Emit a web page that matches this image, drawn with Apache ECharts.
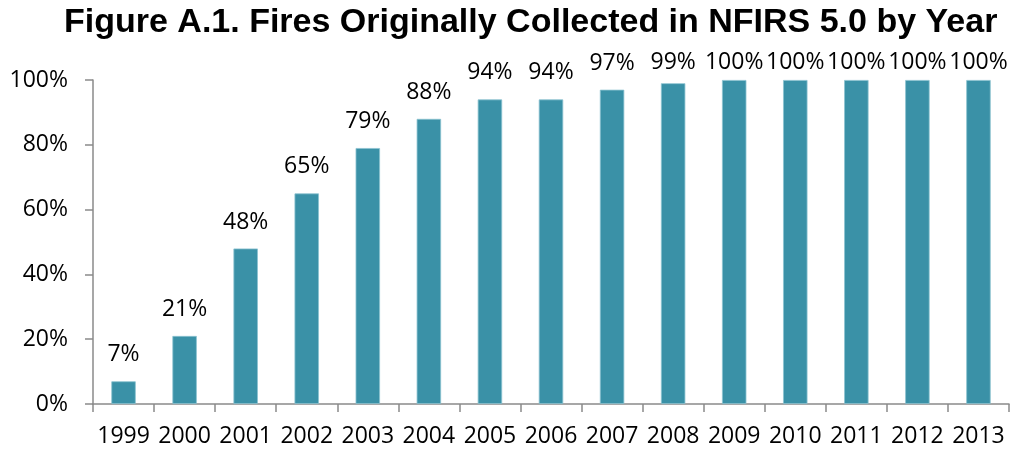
<!DOCTYPE html>
<html>
<head>
<meta charset="utf-8">
<script src="https://cdn.jsdelivr.net/npm/echarts@6/dist/echarts.min.js"></script>
<style>
  html, body { margin: 0; padding: 0; background: #fff; }
  #chart { width: 1011px; height: 451px; }
</style>
</head>
<body>
<div id="chart"></div>
<script>
// data
const years = ['1999', '2000', '2001', '2002', '2003', '2004', '2005', '2006',
    '2007', '2008', '2009', '2010', '2011', '2012', '2013'];
const shareCollected = [7, 21, 48, 65, 79, 88, 94, 94, 97, 99, 100, 100, 100, 100, 100];
const yTicks = [0, 20, 40, 60, 80, 100];

const labelFont = '"Open Sans", sans-serif';
const chart = echarts.init(document.getElementById('chart'));

chart.setOption({
    animation: false,
    title: {
        text: 'Figure A.1. Fires Originally Collected in NFIRS 5.0 by Year',
        left: 64,
        top: 6,
        padding: 0,
        textStyle: {
            fontFamily: '"Liberation Sans", Arial, sans-serif',
            fontWeight: 'bold',
            fontSize: 34,
            color: '#000'
        }
    },
    grid: { left: 93, right: 2, top: 80, bottom: 47, containLabel: false },
    xAxis: {
        type: 'category',
        data: years,
        axisLine: { lineStyle: { color: '#8a8a8a', width: 1.5 } },
        axisTick: { show: true, length: 8, lineStyle: { color: '#8a8a8a', width: 1.5 } },
        axisLabel: { color: '#000', fontFamily: labelFont, fontSize: 23, margin: 21, interval: 0 }
    },
    yAxis: {
        type: 'value',
        min: yTicks[0],
        max: yTicks[yTicks.length - 1],
        interval: yTicks[1] - yTicks[0],
        splitLine: { show: false },
        axisLine: { show: true, lineStyle: { color: '#8a8a8a', width: 1.5 } },
        axisTick: { show: true, length: 8, lineStyle: { color: '#8a8a8a', width: 1.5 } },
        axisLabel: {
            color: '#000', fontFamily: labelFont, fontSize: 23, margin: 25,
            formatter: v => v + '%'
        }
    },
    series: [{
        type: 'bar',
        data: shareCollected,
        barWidth: '40%',
        itemStyle: { color: '#3a91a7', borderColor: '#8cc3d1', borderWidth: 0.8 },
        label: {
            show: true,
            position: 'top',
            distance: 15,
            color: '#000',
            fontFamily: labelFont,
            fontSize: 23,
            formatter: p => p.value + '%'
        },
        // keep top labels under the title, as the original does
        labelLayout: p => (p.labelRect.y < 51
            ? { x: p.labelRect.x, y: 51, align: 'left', verticalAlign: 'top' }
            : {})
    }]
});
</script>
</body>
</html>
